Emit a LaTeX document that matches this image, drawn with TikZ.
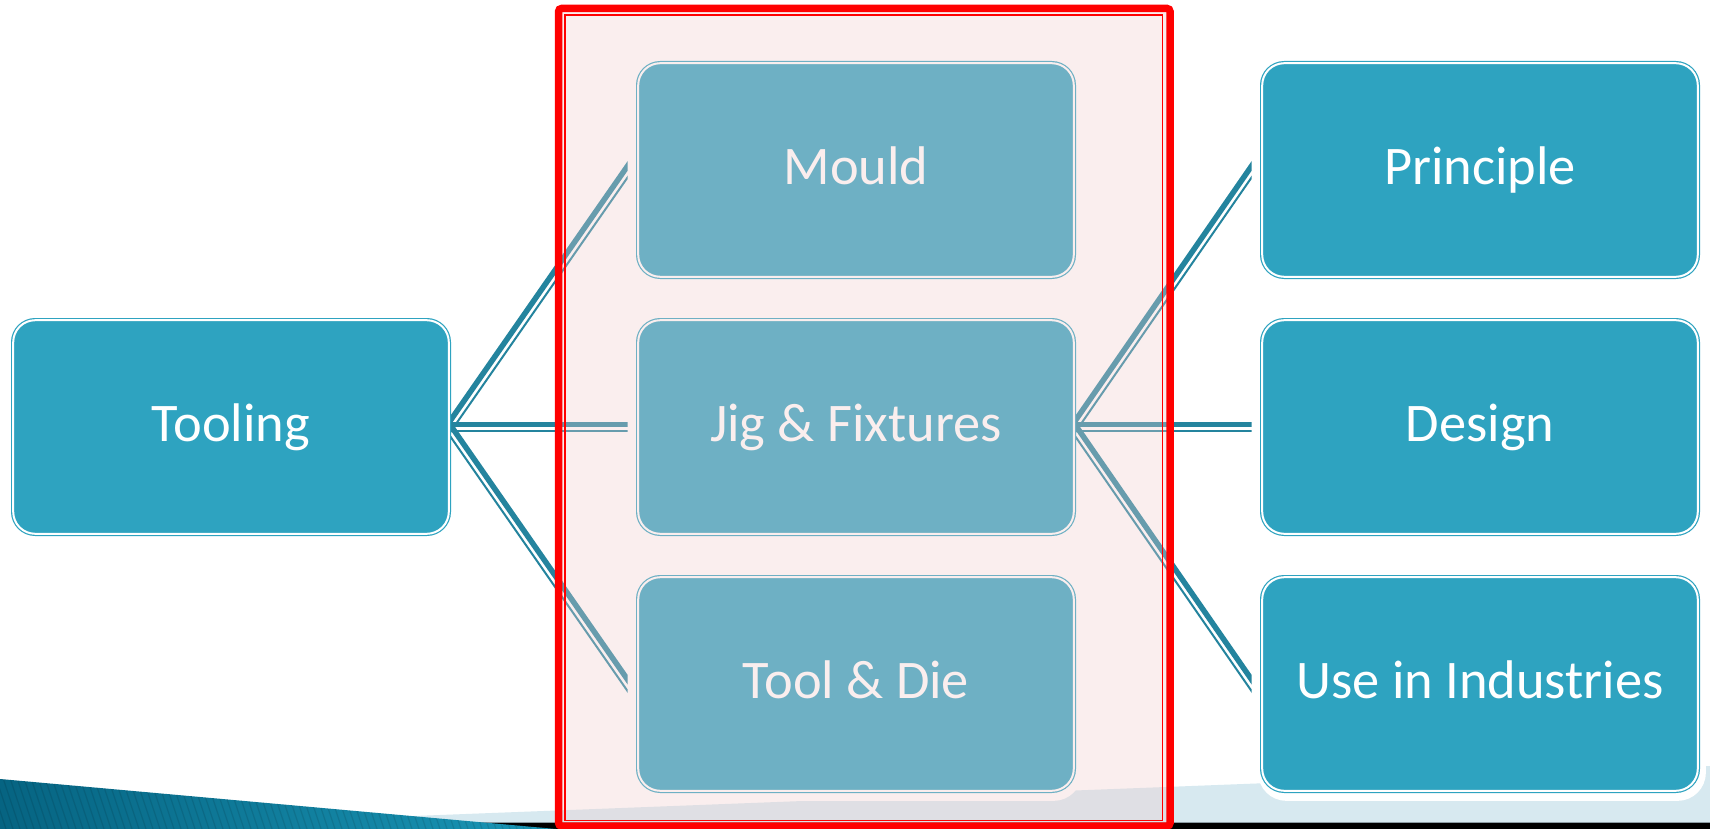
\documentclass[tikz,border=0pt]{standalone}
\usepackage{fontspec}
\setmainfont{Carlito}
\usetikzlibrary{calc}
\pgfdeclarelayer{back}
\pgfdeclarelayer{shadow}
\pgfdeclarelayer{lines}
\pgfdeclarelayer{front}
\pgfsetlayers{back,shadow,lines,main,front}
\definecolor{boxteal}{RGB}{46,163,192}
\definecolor{lineteal}{RGB}{36,132,158}
\definecolor{bandblue}{RGB}{215,233,240}
\definecolor{bandgrey}{RGB}{140,155,163}
\definecolor{overlaypink}{RGB}{242,205,205}
\definecolor{wedgeA}{RGB}{6,100,130}
\definecolor{wedgeB}{RGB}{26,150,182}
\newcommand\cconn[3]{%
  \draw[thickln] ($(#1)+(0,-2.4*#3)$) -- ($(#1)!1.1!(#2)+(0,-2.4*#3)$);
  \draw[thinln] ($(#1)+(0,4.15*#3)$) -- ($(#1)!1.1!(#2)+(0,4.15*#3)$);}
\begin{document}
\begin{tikzpicture}[x=0.5pt,y=-0.5pt,
  tbox/.style={rectangle, rounded corners=11pt, fill=boxteal, draw=boxteal,
    line width=0.6pt, double=white, double distance=1pt,
    minimum width=217.8pt, minimum height=106.8pt, inner sep=0pt, outer sep=0pt,
    text=white, font=\fontsize{27.2}{32}\selectfont, text height=19.5pt, text depth=5pt},
  thickln/.style={draw=lineteal, line width=2.75pt},
  thinln/.style={draw=lineteal, line width=1pt},
  glow/.style={fill=white, rounded corners=14pt},
]
\useasboundingbox (0,0) rectangle (1710,829);

% boxes
\node[tbox] (tool)  at (231,427) {Tooling};
\node[tbox] (mould) at (856,170) {Mould};
\node[tbox] (jig)   at (856,427) {Jig \& Fixtures};
\node[tbox] (die)   at (856,684) {Tool \& Die};
\node[tbox] (prin)  at (1480,170) {Principle};
\node[tbox] (des)   at (1480,427) {Design};
\node[tbox] (use)   at (1480,684) {Use in Industries};

\coordinate (origin) at (0,0);
\coordinate (floor) at (0,829);
\coordinate (cutL) at ($(mould.west)+(-10.5,0)$);
\coordinate (cutR) at ($(prin.west)+(-10.5,0)$);
\coordinate (tL1) at (cutL |- mould.west);
\coordinate (tL2) at (cutL |- jig.west);
\coordinate (tL3) at (cutL |- die.west);
\coordinate (tR1) at (cutR |- prin.west);
\coordinate (tR2) at (cutR |- des.west);
\coordinate (tR3) at (cutR |- use.west);

% background decoration
\begin{pgfonlayer}{back}
  \fill[white] (0,0) rectangle (1710,829);
  \fill[bandblue] (300,820.4) -- (1710,766) -- (1710,822.5) -- (300,822.5) -- cycle;
  \draw[bandgrey, line width=0.5pt] (400,822) -- (1710,822);
  \fill[black] (400,822.5) rectangle (1710,829);
  \shade[left color=wedgeA, right color=wedgeB] (0,779) -- (556,829) -- (0,829) -- cycle;
  \begin{scope}
    \clip (0,779) -- (556,829) -- (0,829) -- cycle;
    \foreach \i in {-40,-33,...,560}
      \draw[black, opacity=0.1, line width=0.6pt] (\i,775) -- (\i+18,829);
  \end{scope}
\end{pgfonlayer}

% soft white glow under boxes
\begin{pgfonlayer}{shadow}
  \foreach \n in {tool,mould,jig,die,prin,des,use}
    \fill[glow] ($(\n.north west)+(-4,-2)$) rectangle ($(\n.south east)+(8,10)$);
\end{pgfonlayer}

% connectors
\begin{pgfonlayer}{lines}
  \begin{scope}
    \clip (tool.center |- origin) rectangle (cutL |- floor);
    \cconn{tool.east}{tL1}{1.75}
    \cconn{tool.east}{tL2}{1}
    \cconn{tool.east}{tL3}{1.75}
  \end{scope}
  \begin{scope}
    \clip (jig.center |- origin) rectangle (cutR |- floor);
    \cconn{jig.east}{tR1}{1.75}
    \cconn{jig.east}{tR2}{1}
    \cconn{jig.east}{tR3}{1.75}
  \end{scope}
\end{pgfonlayer}

% highlight frame
\begin{pgfonlayer}{front}
  \fill[overlaypink, opacity=0.33] (558.5,8.5) rectangle (1170,829);
  \draw[red, line width=3.75pt, rounded corners=1.5pt] (558.6,8.5) rectangle (1170,826);
  \draw[red, line width=0.9pt] (564.6,15.2) rectangle (1162.5,820.5);
\end{pgfonlayer}
\end{tikzpicture}
\end{document}
